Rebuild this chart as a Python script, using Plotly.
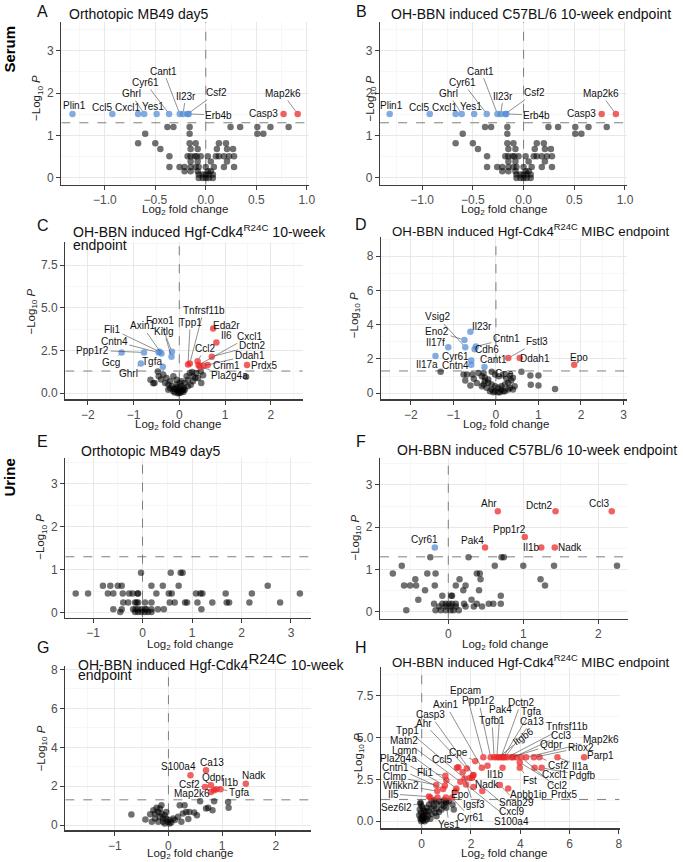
import plotly.graph_objects as go

# ======================= DATA =======================
THRESHOLD = 1.301  # -log10(0.05)

# ---- A: Serum, Orthotopic MB49 day5 ----
a_genes = ["Plin1", "Ccl5", "Cxcl1", "Ghrl", "Yes1", "Cyr61", "Cant1", "Il23r", "Csf2", "Erb4b", "Casp3", "Map2k6"]
a_lfc = [-1.32, -0.925, -0.67, -0.61, -0.487, -0.363, -0.258, -0.225, -0.18, -0.17, 0.77, 0.91]
a_logp = [1.51, 1.51, 1.51, 1.51, 1.51, 1.51, 1.51, 1.51, 1.51, 1.51, 1.51, 1.51]
a_bg_lfc = [-0.38, -0.32, -0.16, 0.245, 0.34, 0.51, 0.64, 0.82,
            -0.60, -0.16, 0.51, 0.57,
            -0.67, -0.50, -0.16, -0.10, 0.13, 0.20,
            -0.45, -0.15, -0.08, 0.11, 0.21, 0.27,
            -0.36, -0.18, -0.15, -0.11, -0.09, -0.05, 0.02, 0.10, 0.13, 0.18, 0.23, 0.28,
            -0.15, -0.08, 0.05, 0.21,
            -0.36, -0.26, -0.21, -0.15, -0.10, -0.07, 0.0, 0.08, 0.18, 0.28,
            -0.21, -0.15, -0.08, 0.02, 0.05,
            -0.07, -0.03, 0.0, 0.03, 0.07,
            -0.07, -0.03, 0.0, 0.03, 0.07]
a_bg_logp = [1.20, 1.20, 1.20, 1.20, 1.20, 1.20, 1.20, 1.20,
             1.04, 1.04, 1.04, 1.04,
             0.82, 0.82, 0.82, 0.82, 0.82, 0.82,
             0.68, 0.68, 0.68, 0.68, 0.68, 0.68,
             0.51, 0.51, 0.51, 0.51, 0.51, 0.51, 0.51, 0.51, 0.51, 0.51, 0.51, 0.51,
             0.39, 0.39, 0.39, 0.39,
             0.26, 0.26, 0.26, 0.26, 0.26, 0.26, 0.26, 0.26, 0.26, 0.26,
             0.16, 0.16, 0.16, 0.16, 0.16,
             0.08, 0.08, 0.08, 0.08, 0.08,
             0.0, 0.0, 0.0, 0.0, 0.0]

# ---- B: Serum, OH-BBN C57BL/6 10-week (shown identical to A in the source) ----
b_genes = list(a_genes)
b_lfc = list(a_lfc)
b_logp = list(a_logp)
b_bg_lfc = list(a_bg_lfc)
b_bg_logp = list(a_bg_logp)

# ---- C: Serum, Hgf-Cdk4 R24C 10-week ----
c_genes = ["Fli1", "Axin1", "Foxo1", "Kitlg", "Cntn4", "Ppp1r2", "Gcg", "Tgfa", "Ghrl",
           "Tnfrsf11b", "Tpp1", "Eda2r", "Il6", "Cxcl1", "Dctn2", "Ccl2", "Ddah1", "Crim1", "Pla2g4a", "Prdx5"]
c_lfc = [-0.43, -0.39, -0.16, -0.17, -0.45, -0.77, -1.26, -0.36, -0.84,
         0.23, 0.19, 0.74, 0.81, 0.42, 0.71, 0.40, 0.53, 0.62, 0.45, 1.48]
c_logp = [2.43, 2.33, 2.43, 2.14, 2.38, 2.39, 2.39, 1.55, 1.75,
          1.75, 1.69, 3.79, 2.97, 1.65, 2.14, 1.88, 1.61, 1.65, 1.55, 1.65]
c_bg_lfc = [-0.47, -0.63, -0.54, -0.45, -0.35, -0.28, -0.20, -0.13, -0.06, 0.01,
            0.05, 0.16, 0.23, 0.28, 0.37, 0.47, 0.52, 0.19, 0.30, 0.41,
            0.48, 0.05, -0.09, -0.02, 0.12, 0.19, -0.17, -0.24, -0.31, -0.13,
            -0.02, 0.09, 0.01, -0.06, 0.12, -0.24, 0.30, 1.46, -0.57, -0.10,
            0.0, 0.06, -0.20, 0.25, 0.35, -0.40, 0.10, -0.05, -0.03, 0.03, 0.08, -0.12]
c_bg_logp = [1.28, 0.79, 0.60, 1.0, 1.09, 0.89, 0.70, 1.0, 0.79, 0.60,
             0.70, 1.0, 1.18, 1.24, 1.18, 1.28, 1.05, 0.79, 0.70, 0.89,
             0.60, 0.41, 0.27, 0.21, 0.21, 0.41, 0.41, 0.51, 0.60, 0.12,
             0.12, 0.08, 0.31, 0.51, 0.60, 0.21, 1.0, 0.97, 0.58, 0.05,
             0.02, 0.15, 0.30, 0.50, 0.90, 0.80, 0.30, 0.35, 0.0, 0.05, 0.20, 0.25]

# ---- D: Serum, Hgf-Cdk4 R24C MIBC ----
d_genes = ["Vsig2", "Il23r", "Eno2", "Cntn1", "Il17f", "Cdh6", "Cyr61", "Cant1", "Il17a", "Cntn4",
           "Fstl3", "Ddah1", "Epo", "Cpe"]
d_lfc = [-0.72, -0.60, -0.74, -0.47, -1.12, -0.50, -0.58, -0.27, -1.42, -0.58, 0.29, 0.56, 1.84, -0.10]
d_logp = [2.69, 3.59, 3.11, 2.73, 2.69, 2.57, 1.91, 1.53, 2.18, 1.66, 2.05, 2.05, 1.66, 1.25]
d_bg_lfc = [-1.30, -0.76, -0.68, -0.55, -0.41, -0.29, -0.02, 0.07, 0.17, 0.33,
            0.60, 0.81, 1.0, 0.82, 1.0, 1.39, -0.72, -0.52, -0.33, -0.26,
            -0.18, -0.26, -0.18, -0.10, -0.02, 0.05, 0.13, 0.21, -0.29, -0.33,
            -0.22, -0.10, -0.02, 0.05, 0.13, 0.21, 0.29, 0.33, 0.40, 0.44,
            0.29, 0.17, 0.09, -0.14, -0.06, 0.36, 0.25, -0.45, 0.40, -0.60]
d_bg_logp = [1.25, 1.09, 1.09, 1.09, 1.18, 1.18, 1.09, 0.99, 1.09, 1.04,
             1.25, 1.03, 1.03, 0.50, 0.45, 0.25, 0.75, 0.85, 0.99, 0.90,
             0.80, 0.70, 0.61, 0.51, 0.41, 0.32, 0.22, 0.12, 0.51, 0.41,
             0.32, 0.22, 0.12, 0.06, 0.41, 0.51, 0.61, 0.32, 0.22, 0.41,
             0.22, 0.12, 0.06, 0.12, 0.06, 0.75, 0.85, 0.60, 0.90, 0.45]

# ---- E: Urine, Orthotopic MB49 day5 ----
e_genes = []
e_lfc = []
e_logp = []
e_bg_lfc = [-0.03, 0.57, 0.77, 0.81,
            -0.80, -0.65, -0.50, -0.42, 0.18, 0.41, 0.73, 2.53,
            -1.35, -1.10, -0.70, -0.59, -0.40, -0.27, -0.20, -0.10, -0.09, 0.28, 0.53, 0.59, 1.08, 1.17, 1.21, 1.68, 2.21, 3.18,
            -0.39, -0.29, -0.15, -0.12, -0.09, 0.05, 0.18, 0.55, 0.65, 0.86, 0.90, 1.11, 1.41, 1.70, 1.75, 2.16, 2.78,
            -0.59, -0.42, -0.19, -0.14, -0.09, -0.02, 0.05, 0.08, 0.18, 0.31, 0.43, 1.19,
            -0.45, -0.15, -0.09, -0.02, 0.05, 0.11, 0.18]
e_bg_logp = [0.93, 0.93, 0.93, 0.93,
             0.63, 0.63, 0.63, 0.63, 0.63, 0.63, 0.63, 0.63,
             0.45, 0.45, 0.45, 0.45, 0.45, 0.45, 0.45, 0.45, 0.45, 0.45, 0.45, 0.45, 0.45, 0.45, 0.45, 0.45, 0.45, 0.45,
             0.24, 0.24, 0.24, 0.24, 0.24, 0.24, 0.24, 0.24, 0.24, 0.24, 0.24, 0.24, 0.24, 0.24, 0.24, 0.24, 0.24,
             0.08, 0.08, 0.08, 0.08, 0.08, 0.08, 0.08, 0.08, 0.08, 0.08, 0.08, 0.08,
             0.02, 0.02, 0.02, 0.02, 0.02, 0.02, 0.02]

# ---- F: Urine, OH-BBN C57BL/6 10-week ----
f_genes = ["Ahr", "Dctn2", "Ccl3", "Ppp1r2", "Pak4", "Il1b", "Nadk", "Cyr61"]
f_lfc = [0.66, 1.43, 2.18, 1.02, 0.49, 1.24, 1.42, -0.18]
f_logp = [2.375, 2.375, 2.375, 1.77, 1.52, 1.52, 1.52, 1.52]
f_bg_lfc = [-0.24, 0.27, 0.71, 0.74,
            -0.62, 0.62, 1.0, 1.41, 2.25,
            -0.74, -0.28, -0.17, 0.38, 0.42,
            -0.44, 0.15, 0.43, 1.23,
            -0.59, -0.51, -0.43, -0.18, 0.10, 0.23, 1.29,
            -0.31, 0.20, 0.41,
            -0.08, 0.04, 0.05, 0.70,
            -0.40, 0.31,
            -0.19, -0.08, -0.035, 0.01, 0.05, 0.10, 0.21, 0.38, 0.54, 0.60, 0.70,
            -0.12, -0.035, 0.03, 0.10, 0.23, 0.34, 0.45,
            -0.56, -0.17, -0.10, -0.035, 0.03, 0.07, 0.14]
f_bg_logp = [1.29, 1.29, 1.29, 1.29,
             1.09, 1.09, 1.09, 1.09, 1.09,
             0.91, 0.91, 0.91, 0.91, 0.91,
             0.77, 0.77, 0.77, 0.77,
             0.625, 0.625, 0.625, 0.625, 0.625, 0.625, 0.625,
             0.51, 0.51, 0.51,
             0.38, 0.38, 0.38, 0.38,
             0.29, 0.29,
             0.195, 0.195, 0.195, 0.195, 0.195, 0.195, 0.195, 0.195, 0.195, 0.195, 0.195,
             0.13, 0.13, 0.13, 0.13, 0.13, 0.13, 0.13,
             0.04, 0.04, 0.04, 0.04, 0.04, 0.04, 0.04]

# ---- G: Urine, Hgf-Cdk4 R24C 10-week ----
g_genes = ["S100a4", "Ca13", "Qdpr", "Csf2", "Il1b", "Map2k6", "Tgfa", "Nadk"]
g_lfc = [0.41, 0.70, 0.79, 0.68, 0.89, 0.79, 0.97, 1.44]
g_logp = [2.56, 2.82, 2.05, 1.96, 1.84, 1.71, 1.84, 2.13]
g_bg_lfc = [-0.69, -0.43, -0.34, -0.28, -0.22, -0.19, -0.16, -0.13, -0.07, -0.04,
            0.02, 0.09, 0.18, 0.21, 0.27, 0.30, 0.33, 0.39, 0.48, 0.53,
            0.59, 0.70, 0.74, 0.82, 0.85, 1.11, 1.12, 0.37, -0.31, -0.19,
            -0.10, -0.01, 0.05, -0.25, -0.10, -0.04, -0.16, -0.25, 0.12, 0.24,
            -0.07, 0.02, -0.13, 0.85]
g_bg_logp = [0.55, 0.29, 0.56, 0.77, 0.89, 0.68, 0.43, 0.60, 0.51, 0.34,
             0.26, 0.34, 0.43, 1.02, 0.60, 1.02, 0.68, 0.68, 0.65, 0.51,
             1.23, 0.85, 0.89, 0.77, 1.23, 1.19, 0.89, 0.31, 0.17, 0.17,
             0.17, 0.17, 0.14, 0.34, 0.34, 0.68, 0.85, 0.60, 0.26, 0.17,
             0.09, 0.09, 1.02, 1.79]

# ---- H: Urine, Hgf-Cdk4 R24C MIBC ----
h_genes = ["Epcam", "Axin1", "Ppp1r2", "Dctn2", "Pak4", "Tgfa", "Casp3", "Ahr", "Tgfb1", "Ca13",
           "Tnfrsf11b", "Tpp1", "Itgb6", "Ccl3", "Map2k6", "Matn2", "Qdpr", "Riox2", "Lgmn", "Cpe",
           "Parp1", "Pla2g4a", "Ccl5", "Csf2", "Il1a", "Cntn1", "Fli1", "Il1b", "Cxcl1", "Pdgfb",
           "Clmp", "Fst", "Wfikkn2", "Nadk", "Ccl2", "Il5", "Epo", "Apbb1ip", "Prdx5", "Snap29",
           "Sez6l2", "Igsf3", "Cxcl9", "Cyr61", "S100a4", "Yes1"]
h_lfc = [2.50, 2.44, 2.80, 3.22, 3.05, 3.30, 2.10, 1.83, 2.94, 3.37,
         3.47, 1.74, 3.13, 3.71, 4.24, 1.57, 3.64, 4.55, 1.41, 2.17,
         6.59, 0.94, 1.43, 4.78, 5.51, 0.87, 0.96, 3.28, 4.58, 4.87,
         0.59, 3.98, 0.63, 2.46, 3.98, 0.29, 1.37, 3.51, 4.04, 3.17,
         -0.05, 1.66, 2.04, 1.23, 1.80, 0.98]
h_logp = [3.82, 3.19, 3.82, 3.82, 3.82, 3.82, 2.76, 3.15, 3.82, 3.82,
          3.82, 2.56, 3.82, 3.82, 3.82, 2.36, 3.82, 3.82, 1.96, 3.59,
          3.82, 2.12, 3.19, 3.82, 3.82, 1.92, 2.72, 3.19, 3.19, 3.19,
          2.16, 3.19, 1.80, 1.80, 3.51, 1.47, 1.80, 1.96, 3.82, 2.16,
          1.05, 2.92, 2.60, 1.40, 2.20, 1.17]
h_bg_lfc = [-0.05, 0.0, -0.08, -0.03, 0.02, -0.05, 0.05, 0.10, 0.15, 0.20,
            0.10, 0.20, 0.30, 0.40, 0.50, 0.60, 0.70, 0.80, 0.90, 1.00,
            0.50, 0.60, 0.80, 1.00, 1.30, 1.25, 0.30, 0.40, 0.25, 0.35,
            -0.10, 0.0, 0.08, 0.12, 0.40, 0.70, 0.55, -0.02, 0.18, 0.05,
            0.60, 0.90, 1.10,
            0.35, 0.64, 0.98, 2.10, 2.67, 1.49, 3.84, 1.00, 1.95, 2.08]
h_bg_logp = [1.10, 0.90, 0.70, 0.50, 0.30, 0.15, 0.05, 0.20, 0.40, 0.10,
             0.60, 0.80, 1.00, 1.20, 1.25, 1.10, 1.20, 1.00, 1.25, 1.10,
             0.90, 0.75, 0.70, 0.80, 0.70, 1.00, 0.60, 0.45, 0.30, 0.15,
             0.35, 0.15, 0.35, 0.00, 0.80, 0.55, 0.50, 0.00, 0.60, 0.75,
             0.30, 0.90, 1.20,
             1.41, 1.41, 1.41, 2.05, 3.31, 3.23, 3.82, 2.45, 2.58, 2.74]

# ======================= LAYOUT / STYLE =======================
W, H = 683, 862
FONT = "Liberation Sans, Arial, Helvetica, sans-serif"
GREY = "rgba(0,0,0,0.56)"
BLUE = "rgba(80,138,214,0.72)"
RED = "rgba(234,38,38,0.72)"
LABEL_SIZE = 10
TITLE_SIZE = 14

# label text centres (in data units) and whether a connector segment is drawn
lab_ab = {"Plin1": (-1.30, 1.70, False), "Ccl5": (-1.03, 1.67, False), "Cxcl1": (-0.78, 1.66, False),
          "Ghrl": (-0.74, 1.99, True), "Yes1": (-0.52, 1.68, False), "Cyr61": (-0.60, 2.25, True),
          "Cant1": (-0.42, 2.52, True), "Il23r": (-0.20, 1.93, True), "Csf2": (0.11, 2.01, True),
          "Erb4b": (0.13, 1.48, True), "Casp3": (0.57, 1.51, False), "Map2k6": (0.76, 1.99, True)}
lab_c = {"Fli1": (-1.46, 3.75, True), "Axin1": (-0.81, 3.94, True), "Foxo1": (-0.43, 4.27, True),
         "Kitlg": (-0.34, 3.63, True), "Cntn4": (-1.42, 3.05, True), "Ppp1r2": (-1.89, 2.52, True),
         "Gcg": (-1.49, 1.79, True), "Tgfa": (-0.59, 1.84, True), "Ghrl": (-1.10, 1.17, True),
         "Tnfrsf11b": (0.53, 4.85, True), "Tpp1": (0.24, 4.14, True), "Eda2r": (1.03, 3.94, False),
         "Il6": (1.03, 3.40, False), "Cxcl1": (1.54, 3.34, True), "Dctn2": (1.61, 2.78, True),
         "Ccl2": (0.56, 2.62, True), "Ddah1": (1.54, 2.23, True), "Crim1": (1.03, 1.65, True),
         "Pla2g4a": (1.10, 1.03, True), "Prdx5": (1.86, 1.65, False)}
lab_d = {"Vsig2": (-1.38, 4.46, True), "Il23r": (-0.33, 3.88, False), "Eno2": (-1.38, 3.59, True),
         "Cntn1": (0.25, 3.17, True), "Il17f": (-1.43, 2.96, False), "Cdh6": (-0.22, 2.57, False),
         "Cyr61": (-0.95, 2.14, False), "Cant1": (-0.06, 1.99, False), "Il17a": (-1.61, 1.66, True),
         "Cntn4": (-0.95, 1.62, False), "Fstl3": (0.97, 3.01, True), "Ddah1": (0.91, 2.05, False),
         "Epo": (1.95, 2.11, False), "Cpe": (0.21, 1.18, False)}
lab_f = {"Ahr": (0.54, 2.55, False), "Dctn2": (1.22, 2.52, False), "Ccl3": (2.01, 2.55, False),
         "Ppp1r2": (0.82, 1.95, False), "Pak4": (0.32, 1.68, False), "Il1b": (1.11, 1.52, False),
         "Nadk": (1.62, 1.52, False), "Cyr61": (-0.32, 1.70, False)}
lab_g = {"S100a4": (0.19, 2.99, False), "Ca13": (0.82, 3.24, False), "Qdpr": (0.84, 2.47, True),
         "Csf2": (0.39, 2.08, True), "Il1b": (1.15, 2.17, True), "Map2k6": (0.44, 1.62, True),
         "Tgfa": (1.31, 1.67, True), "Nadk": (1.59, 2.56, False)}
lab_h = {"Epcam": (1.78, 7.83, True), "Axin1": (0.98, 6.95, True), "Ppp1r2": (2.31, 7.20, True),
         "Dctn2": (4.03, 7.10, True), "Pak4": (3.18, 6.65, True), "Tgfa": (4.43, 6.56, True),
         "Casp3": (0.35, 6.36, True), "Ahr": (0.08, 5.87, True), "Tgfb1": (2.85, 6.03, True),
         "Ca13": (4.48, 5.97, True), "Tnfrsf11b": (5.89, 5.68, True), "Tpp1": (-0.56, 5.42, True),
         "Itgb6": (4.12, 5.05, True), "Ccl3": (5.66, 5.13, True), "Map2k6": (7.26, 4.89, True),
         "Matn2": (-0.70, 4.83, True), "Qdpr": (5.26, 4.56, True), "Riox2": (6.46, 4.40, True),
         "Lgmn": (-0.70, 4.25, True), "Cpe": (1.48, 4.11, True), "Parp1": (7.26, 3.91, False),
         "Pla2g4a": (-0.96, 3.72, True), "Ccl5": (0.84, 3.68, True), "Csf2": (5.55, 3.33, True),
         "Il1a": (6.43, 3.29, True), "Cntn1": (-1.07, 3.23, True), "Fli1": (0.17, 2.94, True),
         "Il1b": (3.0, 2.80, False), "Cxcl1": (5.39, 2.78, True), "Pdgfb": (6.53, 2.74, True),
         "Clmp": (-1.10, 2.68, True), "Fst": (4.39, 2.45, True), "Wfikkn2": (-0.83, 2.15, True),
         "Nadk": (2.64, 2.20, False), "Ccl2": (5.50, 2.15, True), "Il5": (-1.16, 1.62, True),
         "Epo": (1.56, 1.57, False), "Apbb1ip": (4.32, 1.57, True), "Prdx5": (5.79, 1.62, True),
         "Snap29": (3.85, 1.14, True), "Sez6l2": (-1.03, 0.82, True), "Igsf3": (2.11, 0.98, True),
         "Cxcl9": (3.65, 0.59, True), "Cyr61": (1.98, 0.20, True), "S100a4": (3.65, 0.00, True),
         "Yes1": (1.11, -0.20, True)}

R24 = "<sup>R24C</sup>"
R24_BIG = "<sup><span style='font-size:15px'>R24C</span></sup>"

panels = [
    dict(letter="A", genes=a_genes, lfc=a_lfc, logp=a_logp, bgx=a_bg_lfc, bgy=a_bg_logp, lab=lab_ab,
         box=(62, 312, 18, 182), xr=[-1.43, 1.02], yr=[-0.16, 3.68], xd=0.5, yd=1, xf=".1f", yf="",
         title=[("Orthotopic MB49 day5", 68, 10, TITLE_SIZE)], let=(43, 8), xt=(187, 207), yt=(38, 95)),
    dict(letter="B", genes=b_genes, lfc=b_lfc, logp=b_logp, bgx=b_bg_lfc, bgy=b_bg_logp, lab=lab_ab,
         box=(384, 633, 18, 182), xr=[-1.415, 1.015], yr=[-0.16, 3.68], xd=0.5, yd=1, xf=".1f", yf="",
         title=[("OH-BBN induced C57BL/6 10-week endpoint", 393, 10, TITLE_SIZE)], let=(365, 8),
         xt=(509, 207), yt=(375, 95)),
    dict(letter="C", genes=c_genes, lfc=c_lfc, logp=c_logp, bgx=c_bg_lfc, bgy=c_bg_logp, lab=lab_c,
         box=(66, 306, 240, 398), xr=[-2.49, 2.70], yr=[-0.35, 8.84], xd=1, yd=2.5, xf="", yf=".1f",
         title=[("OH-BBN induced Hgf-Cdk4" + R24 + " 10-week", 72, 229, TITLE_SIZE),
                ("endpoint", 72, 243, TITLE_SIZE)],
         let=(43, 223), xt=(180, 424), yt=(32, 310)),
    dict(letter="D", genes=d_genes, lfc=d_lfc, logp=d_logp, bgx=d_bg_lfc, bgy=d_bg_logp, lab=lab_d,
         box=(385, 633, 235, 398), xr=[-2.70, 3.07], yr=[-0.35, 9.1], xd=1, yd=2, xf="", yf="",
         title=[("OH-BBN induced Hgf-Cdk4" + R24 + " MIBC endpoint", 394, 228, 13.3)],
         let=(365, 222), xt=(511, 424), yt=(358, 313)),
    dict(letter="E", genes=e_genes, lfc=e_lfc, logp=e_logp, bgx=e_bg_lfc, bgy=e_bg_logp, lab={},
         box=(66, 314, 457, 618), xr=[-1.56, 3.40], yr=[-0.115, 3.6], xd=1, yd=1, xf="", yf="",
         title=[("Orthotopic MB49 day5", 80, 450, TITLE_SIZE)], let=(43, 441), xt=(192, 645), yt=(42, 537)),
    dict(letter="F", genes=f_genes, lfc=f_lfc, logp=f_logp, bgx=f_bg_lfc, bgy=f_bg_logp, lab=lab_f,
         box=(384, 634, 457, 619), xr=[-0.91, 2.39], yr=[-0.16, 3.64], xd=1, yd=1, xf="", yf="",
         title=[("OH-BBN induced C57BL/6 10-week endpoint", 399, 449, TITLE_SIZE)], let=(365, 441),
         xt=(510, 645), yt=(360, 537)),
    dict(letter="G", genes=g_genes, lfc=g_lfc, logp=g_logp, bgx=g_bg_lfc, bgy=g_bg_logp, lab=lab_g,
         box=(66, 314, 667, 832), xr=[-1.92, 2.65], yr=[-0.26, 8.16], xd=1, yd=2, xf="", yf="",
         title=[("OH-BBN induced Hgf-Cdk4" + R24_BIG + " 10-week", 77, 662, TITLE_SIZE),
                ("endpoint", 77, 676, TITLE_SIZE)],
         let=(43, 648), xt=(192, 856), yt=(42, 750)),
    dict(letter="H", genes=h_genes, lfc=h_lfc, logp=h_logp, bgx=h_bg_lfc, bgy=h_bg_logp, lab=lab_h,
         box=(385, 626, 668, 830), xr=[-1.65, 8.03], yr=[-0.42, 9.2], xd=2, yd=2.5, xf="", yf=".1f",
         title=[("OH-BBN induced Hgf-Cdk4" + R24 + " MIBC endpoint", 394, 662, 13.3)],
         let=(365, 648), xt=(509, 856), yt=(362, 757)),
]


def colour(x, y):
    if y > THRESHOLD:
        return RED if x > 0 else BLUE
    return GREY


fig = go.Figure()
annotations = []
axes = {}
DASH = dict(color="#707070", width=0.9, dash="dash")

for i, p in enumerate(panels):
    n = i + 1
    xa = "x" if n == 1 else f"x{n}"
    ya = "y" if n == 1 else f"y{n}"
    L, R, T, B = p["box"]
    common = dict(showgrid=True, gridcolor="#e6e6e6", gridwidth=0.9, zeroline=False,
                  showline=True, linecolor="#3c3c3c", linewidth=1.3, ticks="outside", ticklen=4,
                  tickcolor="#3c3c3c", tickwidth=1, tick0=0,
                  tickfont=dict(family=FONT, size=12, color="#4d4d4d"), fixedrange=True)
    axes["xaxis" if n == 1 else f"xaxis{n}"] = dict(
        common, domain=[L / W, R / W], range=p["xr"], anchor=ya, dtick=p["xd"], tickformat=p["xf"],
        minor=dict(dtick=p["xd"] / 2, showgrid=True, gridcolor="#f2f2f2", gridwidth=0.6))
    axes["yaxis" if n == 1 else f"yaxis{n}"] = dict(
        common, domain=[1 - B / H, 1 - T / H], range=p["yr"], anchor=xa, dtick=p["yd"], tickformat=p["yf"],
        minor=dict(dtick=p["yd"] / 2, showgrid=True, gridcolor="#f2f2f2", gridwidth=0.6))

    # threshold reference lines (drawn before the points, above the grid)
    fig.add_trace(go.Scatter(x=p["xr"], y=[THRESHOLD, THRESHOLD], mode="lines", line=DASH,
                             xaxis=xa, yaxis=ya, hoverinfo="skip"))
    fig.add_trace(go.Scatter(x=[0, 0], y=p["yr"], mode="lines", line=DASH,
                             xaxis=xa, yaxis=ya, hoverinfo="skip"))

    xs = list(p["bgx"]) + list(p["lfc"])
    ys = list(p["bgy"]) + list(p["logp"])
    ns = [(x, y) for x, y in zip(xs, ys) if y <= THRESHOLD]
    sg = [(x, y) for x, y in zip(xs, ys) if y > THRESHOLD]
    if ns:
        fig.add_trace(go.Scatter(x=[q[0] for q in ns], y=[q[1] for q in ns], mode="markers",
                                 xaxis=xa, yaxis=ya, hoverinfo="skip",
                                 marker=dict(size=6.5, color=GREY, line=dict(width=0))))
    if sg:
        fig.add_trace(go.Scatter(x=[q[0] for q in sg], y=[q[1] for q in sg], mode="markers",
                                 xaxis=xa, yaxis=ya, hoverinfo="skip",
                                 marker=dict(size=6.5, color=[colour(*q) for q in sg], line=dict(width=0))))

    # gene labels
    for g, x, y in zip(p["genes"], p["lfc"], p["logp"]):
        tx, ty, line = p["lab"][g]
        fnt = dict(family=FONT, size=LABEL_SIZE, color="#111111")
        ang = -35 if (p["letter"] == "H" and g == "Itgb6") else 0
        if line:
            annotations.append(dict(x=x, y=y, xref=xa, yref=ya, ax=tx, ay=ty, axref=xa, ayref=ya,
                                    text=g, showarrow=True, arrowhead=0, arrowwidth=0.6,
                                    arrowcolor="#444444", standoff=3, font=fnt, textangle=ang))
        else:
            annotations.append(dict(x=tx, y=ty, xref=xa, yref=ya, text=g, showarrow=False,
                                    font=fnt, textangle=ang))

    # titles
    for txt, tx, ty, fs in p["title"]:
        annotations.append(dict(x=tx / W, y=1 - ty / H, xref="paper", yref="paper", xanchor="left",
                                yanchor="middle", text=txt, showarrow=False,
                                font=dict(family=FONT, size=fs, color="#111111")))
    lx, ly = p["let"]
    annotations.append(dict(x=lx / W, y=1 - ly / H, xref="paper", yref="paper", xanchor="center",
                            yanchor="middle", text=p["letter"], showarrow=False,
                            font=dict(family=FONT, size=16, color="#111111")))
    # axis titles
    cx, cy = p["xt"]
    annotations.append(dict(x=cx / W, y=1 - cy / H, xref="paper", yref="paper", xanchor="center",
                            yanchor="middle", text="Log<sub>2</sub> fold change", showarrow=False,
                            font=dict(family=FONT, size=11.5, color="#222222")))
    vx, vy = p["yt"]
    annotations.append(dict(x=vx / W, y=1 - vy / H, xref="paper", yref="paper", xanchor="center",
                            yanchor="middle", text="\u2212Log<sub>10</sub> <i>P</i>", showarrow=False,
                            textangle=-90, font=dict(family=FONT, size=11.5, color="#222222")))

# row labels
for txt, px, py in [("Serum", 10, 45), ("Urine", 10, 477)]:
    annotations.append(dict(x=px / W, y=1 - py / H, xref="paper", yref="paper", xanchor="center",
                            yanchor="middle", text=f"<b>{txt}</b>", showarrow=False, textangle=-90,
                            font=dict(family=FONT, size=15, color="#000000")))

fig.update_layout(width=W, height=H, autosize=False, margin=dict(l=0, r=0, t=0, b=0),
                  paper_bgcolor="white", plot_bgcolor="white", showlegend=False,
                  annotations=annotations, **axes)

# remove the browser's default 8px body margin so the figure sits at the window origin
fig.write_html("out.html", config={"displayModeBar": False, "staticPlot": True},
               post_script="document.body.style.margin='0';document.body.style.overflow='hidden';")
